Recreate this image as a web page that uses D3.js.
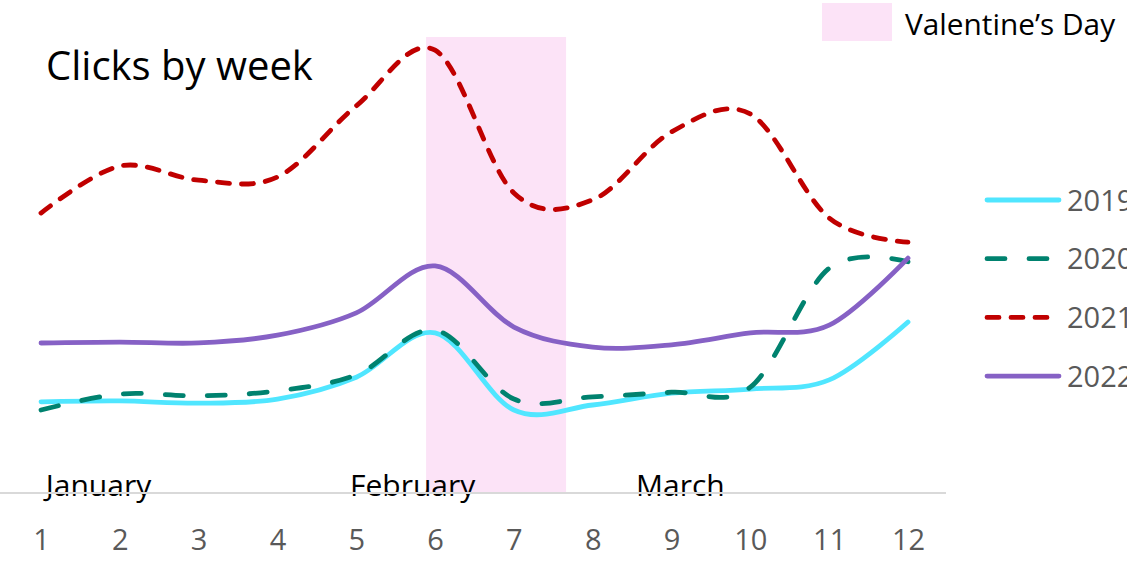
<!DOCTYPE html>
<html>
<head>
<meta charset="utf-8">
<script src="https://cdn.jsdelivr.net/npm/d3@7"></script>
<style>
  html, body { margin: 0; padding: 0; background: #fff; }
  svg { display: block; }
  text { font-family: "Open Sans", "Noto Sans", sans-serif; }
</style>
</head>
<body>
<svg id="chart" width="1127" height="566"></svg>
<script>
// Weekly click index, first quarter, by year
const weeks = [1, 2, 3, 4, 5, 6, 7, 8, 9, 10, 11, 12];
const clicks2019 = [20.0, 20.2, 19.7, 20.6, 25.4, 35.1, 18.2, 19.3, 21.9, 22.8, 24.8, 37.5];
const clicks2020 = [18.2, 21.7, 21.3, 22.4, 25.9, 35.7, 20.6, 21.1, 22.1, 23.2, 49.3, 50.7];
const clicks2021 = [61.4, 71.7, 68.6, 69.3, 84.9, 97.1, 65.8, 64.3, 79.2, 83.1, 60.3, 55.0];
const clicks2022 = [32.9, 33.1, 32.9, 34.6, 39.5, 49.8, 36.4, 32.0, 32.5, 35.1, 36.8, 51.5];
const years = ["2019", "2020", "2021", "2022"];

const monthNames = ["January", "February", "March"];
const monthStartWeek = [1.06, 4.92, 8.55];

// Valentine's Day highlight, in week units
const valentineSpan = [5.886, 7.662];

const seriesStyle = [
  { color: "#50E6FF", dash: null },
  { color: "#00826F", dash: "18,24" },
  { color: "#C00000", dash: "12,12" },
  { color: "#8661C5", dash: null }
];
const seriesValues = [clicks2019, clicks2020, clicks2021, clicks2022];

const svg = d3.select("#chart");

const x = d3.scaleLinear().domain([1, 12]).range([41, 908]);
const y = d3.scaleLinear().domain([0, 100]).range([493, 37]);

// highlight band
svg.append("rect")
  .attr("x", x(valentineSpan[0]))
  .attr("y", y(100))
  .attr("width", x(valentineSpan[1]) - x(valentineSpan[0]))
  .attr("height", y(0) - y(100))
  .attr("fill", "#FCE3F7");

// month labels sit on the baseline
svg.append("g").selectAll("text")
  .data(monthNames)
  .join("text")
  .attr("x", (d, i) => x(monthStartWeek[i]))
  .attr("y", 496)
  .attr("font-size", 30)
  .attr("fill", "#000")
  .text(d => d);

// x axis
const xAxis = d3.axisBottom(x).tickValues(weeks).tickSize(0).tickPadding(36).tickFormat(d3.format("d"));
const axisG = svg.append("g").attr("transform", `translate(0,${y(0)})`).call(xAxis);
axisG.select(".domain").remove();
axisG.selectAll("text")
  .attr("font-size", 29)
  .attr("fill", "#595959")
  .attr("font-family", "'Open Sans', 'Noto Sans', sans-serif");
svg.append("line")
  .attr("x1", 0).attr("x2", 946)
  .attr("y1", y(0)).attr("y2", y(0))
  .attr("stroke", "#D9D9D9")
  .attr("stroke-width", 2);

// series lines
const line = d3.line()
  .x((d, i) => x(weeks[i]))
  .y(d => y(d))
  .curve(d3.curveCardinal.tension(0));

svg.append("g").selectAll("path")
  .data(seriesValues)
  .join("path")
  .attr("d", d => line(d))
  .attr("fill", "none")
  .attr("stroke", (d, i) => seriesStyle[i].color)
  .attr("stroke-width", 4.8)
  .attr("stroke-linecap", "round")
  .attr("stroke-linejoin", "round")
  .attr("stroke-dasharray", (d, i) => seriesStyle[i].dash);

// title
svg.append("text")
  .attr("x", 46)
  .attr("y", 80)
  .attr("font-size", 40)
  .attr("fill", "#000")
  .text("Clicks by week");

// highlight legend
svg.append("rect")
  .attr("x", 822).attr("y", 3)
  .attr("width", 70).attr("height", 38)
  .attr("fill", "#FCE3F7");
svg.append("text")
  .attr("x", 905).attr("y", 35)
  .attr("font-size", 29.8)
  .attr("fill", "#000")
  .text("Valentine\u2019s Day");

// series legend
const legend = svg.append("g").selectAll("g")
  .data(years)
  .join("g")
  .attr("transform", (d, i) => `translate(987,${200 + i * 58.7})`);
legend.append("line")
  .attr("x1", 0).attr("x2", 72)
  .attr("stroke", (d, i) => seriesStyle[i].color)
  .attr("stroke-width", 4.8)
  .attr("stroke-linecap", "round")
  .attr("stroke-dasharray", (d, i) => seriesStyle[i].dash);
legend.append("text")
  .attr("x", 80).attr("y", 10.5)
  .attr("font-size", 29)
  .attr("fill", "#595959")
  .text(d => d);
</script>
</body>
</html>
